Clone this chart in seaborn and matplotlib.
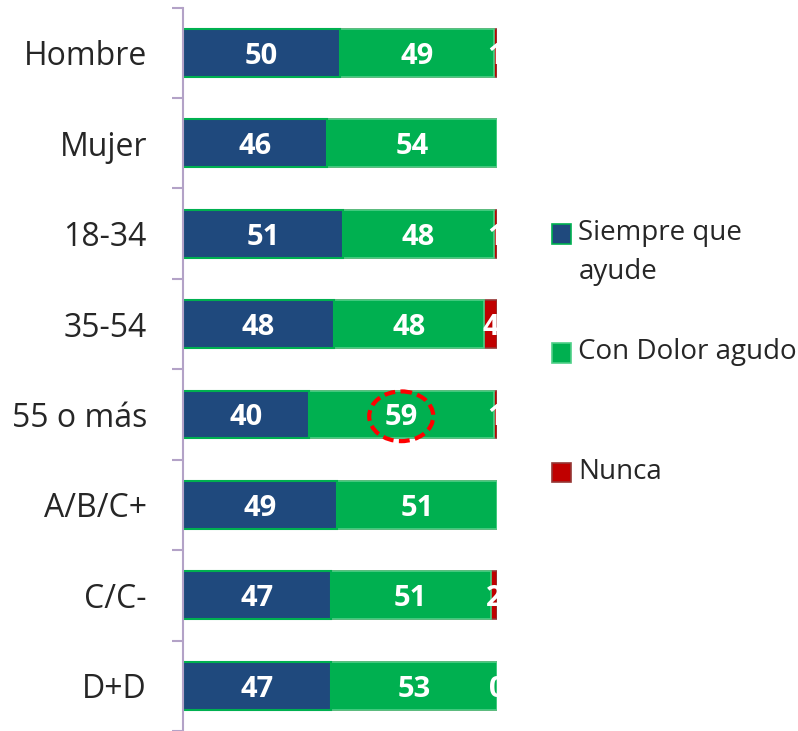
import numpy as np
import pandas as pd
import matplotlib
matplotlib.use("Agg")
import matplotlib.pyplot as plt
import matplotlib.patches as mpatches
from matplotlib.legend_handler import HandlerPatch
import seaborn as sns

# ************* DATA *****************
categories = ["Hombre", "Mujer", "18-34", "35-54", "55 o más", "A/B/C+", "C/C-", "D+D"]
siempre = [50, 46, 51, 48, 40, 49, 47, 47]
con_dolor = [49, 54, 48, 48, 59, 51, 51, 53]
nunca = [1, np.nan, 1, 4, 1, np.nan, 2, 0]   # nan = no label in the original
series_names = ["Siempre que\nayude", "Con Dolor agudo\n", "Nunca\n"]
highlight = "55 o más"   # the 59 with the dashed circle

blue = "#1F497D"
green = "#00B050"
red = "#C00000"

df = pd.DataFrame({"cat": categories, "siempre": siempre,
                   "con_dolor": con_dolor, "nunca": nunca})
df["cum1"] = df["siempre"]
df["cum2"] = df["cum1"] + df["con_dolor"]
df["cum3"] = df["cum2"] + df["nunca"].fillna(0)

sns.set_style("white")
plt.rcParams["font.family"] = ["Open Sans", "DejaVu Sans"]

fig = plt.figure(figsize=(7.98, 7.31), dpi=100)
ax = fig.add_axes([183 / 798, 0.0, 314 / 798, 1 - 7.5 / 731])

# stacked bars: draw the totals first, then overlay the shorter ones
bw = 0.53
sns.barplot(data=df, x="cum3", y="cat", orient="h", color=red, width=bw,
            edgecolor="#953735", linewidth=1.2, saturation=1, ax=ax)
sns.barplot(data=df, x="cum2", y="cat", orient="h", color=green, width=bw,
            edgecolor="#4FD088", linewidth=1.2, saturation=1, ax=ax)
sns.barplot(data=df, x="cum1", y="cat", orient="h", color=blue, width=bw,
            edgecolor=green, linewidth=1.5, saturation=1, ax=ax)

# value labels in the middle of each piece
lab = dict(color="white", fontsize=21, fontweight="bold", ha="center", va="center_baseline")
for i, row in df.iterrows():
    ax.text(row["siempre"] / 2, i, f"{row['siempre']:.0f}", **lab)
    ax.text(row["cum1"] + row["con_dolor"] / 2, i, f"{row['con_dolor']:.0f}", **lab)
    if not np.isnan(row["nunca"]):
        ax.text(row["cum2"] + row["nunca"] / 2, i, f"{row['nunca']:.0f}",
                clip_on=True, **lab)

# dashed red circle round the highlighted value
hi = df.index[df["cat"] == highlight][0]
hx = df.loc[hi, "cum1"] + df.loc[hi, "con_dolor"] / 2
ax.add_patch(mpatches.Ellipse((hx, hi + 0.02), 20.4, 0.55, fill=False,
                              edgecolor="#FF0000", linewidth=3,
                              linestyle=(0, (2.6, 1.3)), zorder=5))

ax.set_xlim(0, 100)
ax.set_ylim(len(categories) - 0.5, -0.5)
ax.set_xlabel("")
ax.set_ylabel("")
ax.set_xticks([])

# ticks between the categories, labels at the centres
ax.set_yticks(np.arange(len(categories) + 1) - 0.5)
ax.set_yticklabels([])
ax.set_yticks(np.arange(len(categories)), minor=True)
ax.set_yticklabels(categories, minor=True, fontsize=23)
ax.tick_params(axis="y", which="major", length=8, width=1.5, color="#B3A2C7", left=True)
ax.tick_params(axis="y", which="minor", length=0, pad=26)

for s in ["top", "right", "bottom"]:
    ax.spines[s].set_visible(False)
ax.spines["left"].set_color("#B3A2C7")
ax.spines["left"].set_linewidth(1.5)

# legend: square sits on the first line of each label
leg_fs = 20
leg_ls = 1.5


def square_first_line(legend, orig_handle, xdescent, ydescent, width, height, fontsize):
    lift = 0.5 * leg_ls * 0.92 * fontsize
    return mpatches.Rectangle((-xdescent, -ydescent + lift), width, height)


handles = [mpatches.Patch(facecolor=blue, edgecolor=green, linewidth=1.2),
           mpatches.Patch(facecolor=green, edgecolor="#4FD088", linewidth=1.2),
           mpatches.Patch(facecolor=red, edgecolor="#953735", linewidth=1.2)]
hmap = {h: HandlerPatch(patch_func=square_first_line) for h in handles}
leg = fig.legend(handles, series_names, handler_map=hmap, loc="upper left",
                 bbox_to_anchor=(552 / 798, 1 - 219 / 731), frameon=False,
                 fontsize=leg_fs, handlelength=0.7, handleheight=0.7,
                 handletextpad=0.25, labelspacing=1.9, borderpad=0, borderaxespad=0)
for t in leg.get_texts():
    t.set_linespacing(leg_ls)

plt.savefig("out.png", dpi=100)
